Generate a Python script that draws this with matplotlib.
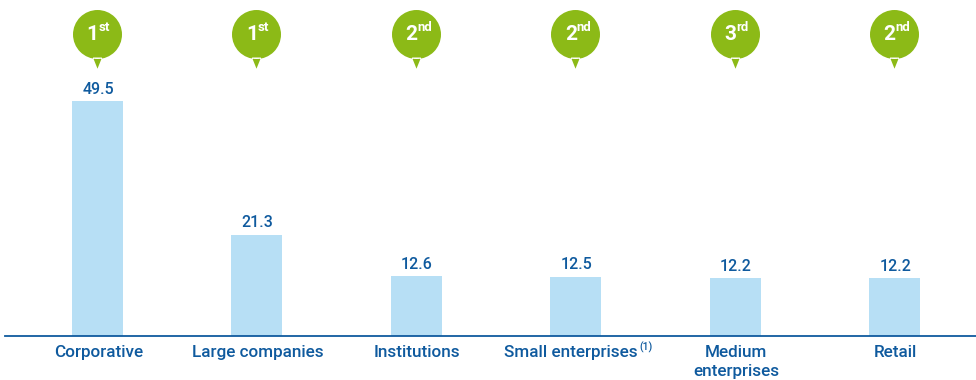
import numpy as np
import matplotlib
matplotlib.use('Agg')
import matplotlib.pyplot as plt
from matplotlib.path import Path

categories = ['Corporative', 'Large companies', 'Institutions', 'Small enterprises', 'Medium\nenterprises', 'Retail']
shares = [49.5, 21.3, 12.6, 12.5, 12.2, 12.2]
rank_num = ['1', '1', '2', '2', '3', '2']
rank_suffix = ['st', 'st', 'nd', 'nd', 'rd', 'nd']

BLUE = '#0f5a9e'
BAR = '#b7dff5'
GREEN = '#8cba17'

plt.rcParams['font.family'] = ['Roboto', 'DejaVu Sans']

W, H = 976, 380
fig = plt.figure(figsize=(W / 100, H / 100), dpi=100)
base_y = 336
step = 159.4
x0 = 97.5
ax = fig.add_axes([0, (H - base_y) / H, 1, base_y / H])
ax.set_xlim(-x0 / step, (W - x0) / step)
ax.set_ylim(0, base_y / 4.747)
ax.axis('off')

x = np.arange(len(shares))
ax.bar(x, shares, width=51 / step, color=BAR, linewidth=0)

# baseline under the bars
ax.plot([5 / W, 1], [0, 0], color=BLUE, lw=1.3, transform=ax.transAxes, clip_on=False, zorder=3)

# pin shape: circle with a small pointer below, in pixels around the centre
r = 24.5
circle = Path.unit_circle()
circle = Path(circle.vertices * r, circle.codes)
tail = Path([(-4.5, -23), (4.5, -23), (0, -34.2), (-4.5, -23)], closed=True)
pin = Path.make_compound_path(circle, tail)
pin_y = (base_y - 33.5) / base_y
trans = ax.get_xaxis_transform()
ax.plot(x - 0.6 / step, [pin_y] * len(x), ls='none', marker=pin, ms=2 * 34.2 * 72 / 100,
        mfc=GREEN, mec='none', transform=trans, clip_on=False)

for i in range(len(x)):
    ax.annotate(f'{shares[i]}', (x[i], shares[i]), xytext=(0.5, 3.2), textcoords='offset points',
                ha='center', va='bottom', fontsize=11.5, fontweight='medium', color=BLUE)
    ax.annotate(categories[i], (x[i], 0), xytext=(0.6 if i != 3 else -3.2, -6.5), textcoords='offset points',
                ha='center', va='top', fontsize=12.3, fontweight='medium', color=BLUE, linespacing=1.32,
                annotation_clip=False)
    # rank inside the pin
    ax.annotate(rank_num[i], (x[i], pin_y), xycoords=trans, xytext=(0.8, -0.5), textcoords='offset points',
                ha='right', va='center', fontsize=15, fontweight='bold', color='white')
    ax.annotate(rank_suffix[i], (x[i], pin_y), xycoords=trans, xytext=(0.8, 4.5), textcoords='offset points',
                ha='left', va='center', fontsize=9.5, fontweight='bold', color='white')

ax.annotate('(1)', (x[3], 0), xytext=(46, -4), textcoords='offset points', ha='left', va='top',
            fontsize=7.5, fontweight='medium', color=BLUE, annotation_clip=False)

fig.savefig('out.png', dpi=100)
